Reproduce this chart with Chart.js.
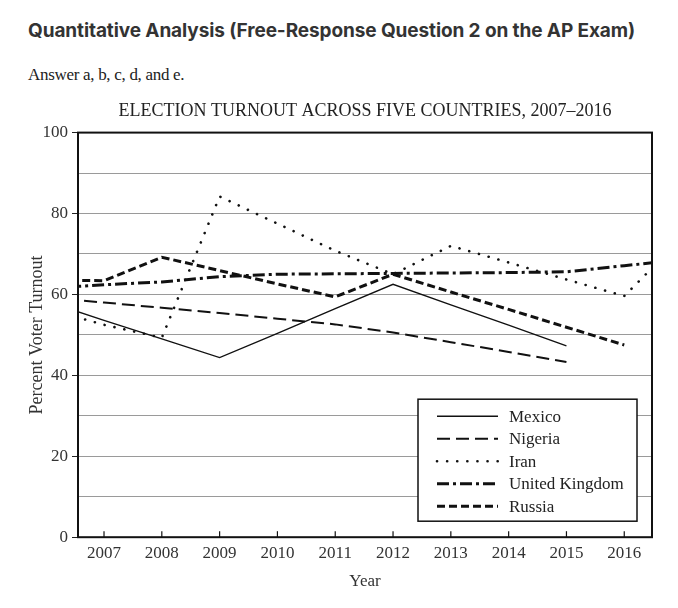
<!DOCTYPE html>
<html>
<head>
<meta charset="utf-8">
<script src="https://cdn.jsdelivr.net/npm/chart.js@4.4.1/dist/chart.umd.min.js"></script>
<style>
  body { margin: 0; background: #fff; width: 678px; height: 608px; overflow: hidden; position: relative; }
  #heading { position: absolute; left: 28px; top: 19px; font: 700 19px Inter, "Noto Sans", sans-serif; color: #333; white-space: nowrap; letter-spacing: -0.1px; }
  #answer { position: absolute; left: 28px; top: 65px; font: 17px "Liberation Serif", serif; color: #222; letter-spacing: -0.3px; }
  #wrap { position: absolute; left: 0; top: 92px; width: 678px; height: 516px; }
</style>
</head>
<body>
<div id="heading">Quantitative Analysis (Free-Response Question 2 on the AP Exam)</div>
<div id="answer">Answer a, b, c, d, and e.</div>
<div id="wrap"><canvas id="chart"></canvas></div>
<script>
// years, incl. one either side so the lines run to the frame (clipped)
const years = [2006, 2007, 2008, 2009, 2010, 2011, 2012, 2013, 2014, 2015, 2016, 2017];
const tickYears = [2007, 2008, 2009, 2010, 2011, 2012, 2013, 2014, 2015, 2016];

const mexico  = [58.3, 53.6, 49.0, 44.4, 50.4, 56.5, 62.5, 57.4, 52.4, 47.3, null, null];
const nigeria = [59.3, 58.0, 56.7, 55.4, 54.0, 52.6, 50.6, 48.2, 45.8, 43.3, null, null];
const iran    = [56.5, 52.5, 49.3, 84.2, 77.5, 70.8, 65.0, 72.0, 67.9, 63.7, 59.6, 74.0];
const uk      = [61.5, 62.4, 63.1, 64.4, 65.0, 65.1, 65.2, 65.3, 65.4, 65.6, 67.1, 68.6];
const russia  = [63.5, 63.4, 69.2, 65.9, 62.6, 59.4, 65.0, 60.6, 56.3, 51.9, 47.5, null];

const serif = '"Liberation Serif", "Times New Roman", serif';

const toPoints = vals => vals.map((v, i) => ({ x: years[i], y: v }));

const line = (label, vals, width, dash, cap) => ({
  label: label,
  data: toPoints(vals),
  borderColor: '#111',
  borderWidth: width,
  borderDash: dash,
  borderCapStyle: cap || 'butt',
  pointRadius: 0,
  fill: false,
  tension: 0,
  spanGaps: false,
  clip: 0
});

// frame, inward x ticks and the boxed legend
const framePlugin = {
  id: 'frame',
  afterDatasetsDraw(chart) {
    const { ctx, chartArea: a, scales } = chart;
    ctx.save();
    ctx.setLineDash([]);
    ctx.strokeStyle = '#111';
    ctx.lineWidth = 2;
    ctx.strokeRect(a.left, a.top, a.right - a.left, a.bottom - a.top);

    ctx.lineWidth = 1.2;
    tickYears.forEach(y => {
      const px = scales.x.getPixelForValue(y);
      ctx.beginPath();
      ctx.moveTo(px, a.bottom);
      ctx.lineTo(px, a.bottom - 6);
      ctx.stroke();
    });

    // legend
    const w = 219, h = 122;
    const x0 = a.right - 15 - w, y0 = a.bottom - 16 - h;
    ctx.fillStyle = '#fff';
    ctx.fillRect(x0, y0, w, h);
    ctx.lineWidth = 1.5;
    ctx.strokeRect(x0, y0, w, h);
    ctx.font = '17px ' + serif;
    ctx.textBaseline = 'middle';
    chart.data.datasets.forEach((ds, i) => {
      const ry = y0 + 17 + i * 22.5;
      ctx.save();
      ctx.strokeStyle = ds.borderColor;
      ctx.lineWidth = ds.borderWidth;
      ctx.lineCap = ds.borderCapStyle;
      ctx.setLineDash(ds.borderDash);
      ctx.beginPath();
      ctx.moveTo(x0 + 19, ry);
      ctx.lineTo(x0 + 80, ry);
      ctx.stroke();
      ctx.restore();
      ctx.fillStyle = '#222';
      ctx.fillText(ds.label, x0 + 91, ry + 1);
    });
    ctx.restore();
  }
};

new Chart(document.getElementById('chart'), {
  type: 'line',
  data: {
    datasets: [
      line('Mexico', mexico, 1.4, []),
      line('Nigeria', nigeria, 2, [13, 6]),
      line('Iran', iran, 2.6, [0.1, 10], 'round'),
      line('United Kingdom', uk, 3, [12, 4, 3, 4]),
      line('Russia', russia, 3, [8, 4])
    ]
  },
  options: {
    responsive: true,
    maintainAspectRatio: false,
    animation: false,
    layout: { padding: { right: 26 } },
    plugins: {
      legend: { display: false },
      tooltip: { enabled: false },
      title: {
        display: true,
        fullSize: false,
        text: 'ELECTION TURNOUT ACROSS FIVE COUNTRIES, 2007–2016',
        color: '#222',
        font: { family: serif, size: 18, weight: 'normal' },
        padding: { top: 8, bottom: 11 }
      }
    },
    scales: {
      x: {
        type: 'linear',
        min: 2006.55,
        max: 2016.48,
        afterBuildTicks: s => { s.ticks = tickYears.map(v => ({ value: v })); },
        grid: { display: false, drawTicks: false },
        border: { display: false },
        ticks: {
          padding: 6,
          color: '#333',
          font: { family: serif, size: 17 },
          callback: v => String(v)
        },
        title: {
          display: true,
          text: 'Year',
          color: '#333',
          font: { family: serif, size: 17 },
          padding: { top: 2, bottom: 16 }
        }
      },
      y: {
        min: 0,
        max: 100,
        afterFit: s => { s.width = 78; },
        ticks: {
          stepSize: 10,
          padding: 4,
          color: '#333',
          font: { family: serif, size: 17 },
          callback: v => (v % 20 === 0 ? v : '')
        },
        grid: {
          color: c => (c.tick.value === 0 || c.tick.value === 100) ? 'rgba(0,0,0,0)' : '#9a9a9a',
          tickColor: c => (c.tick.value % 20 === 0 ? '#222' : 'rgba(0,0,0,0)'),
          tickLength: 6,
          lineWidth: 1
        },
        border: { display: false },
        title: {
          display: true,
          text: 'Percent Voter Turnout',
          color: '#333',
          font: { family: serif, size: 18 },
          padding: { top: 26, bottom: 0 }
        }
      }
    }
  },
  plugins: [framePlugin]
});
</script>
</body>
</html>
